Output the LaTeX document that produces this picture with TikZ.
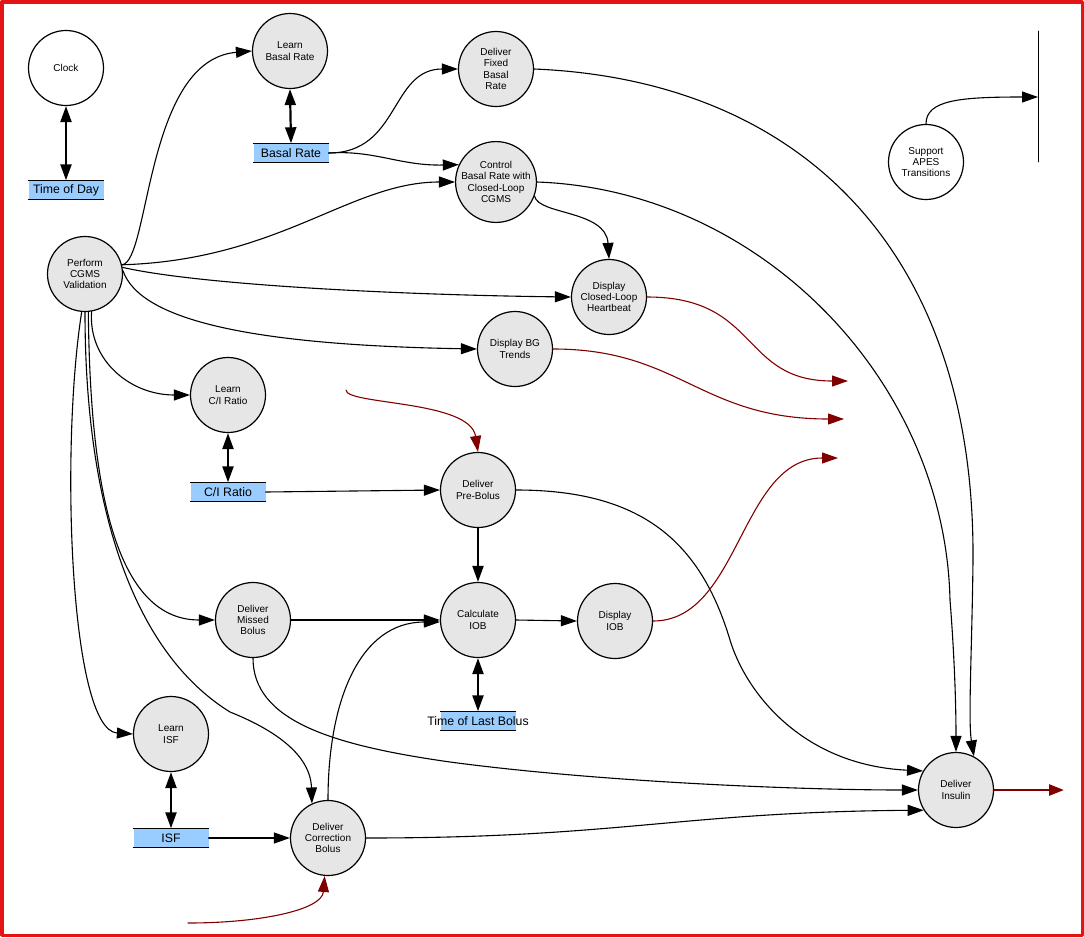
\documentclass[tikz,border=0pt]{standalone}
\usepackage{fontspec}
\setmainfont{Liberation Sans}
\usetikzlibrary{arrows.meta}
\definecolor{procgray}{HTML}{E6E6E6}
\definecolor{storeblue}{HTML}{99CCFF}
\definecolor{flowred}{HTML}{800000}
\definecolor{framered}{HTML}{E51414}
\begin{document}
\begin{tikzpicture}[line cap=round,line join=round,x=1pt,y=-1pt,
	>={Triangle[length=16pt,width=11pt]},
	proc/.style={circle,draw,line width=1.2pt,fill=procgray,minimum size=75pt,inner sep=0pt,align=center,font=\fontsize{10}{11.3}\selectfont},
	term/.style={proc,fill=white},
	store/.style={fill=storeblue,minimum width=75pt,minimum height=19pt,inner sep=0pt,font=\fontsize{12.3}{14}\selectfont},
	flow/.style={->,line width=1.1pt},
	dflow/.style={<->,line width=2.2pt,>={Triangle[length=16pt,width=11pt]}},
	cflow/.style={->,line width=1.1pt,color=flowred}]
			\useasboundingbox (0,0) rectangle (1084,937);
			\draw [framered,line width=3.5pt] (1.75,1.75) rectangle (1082.25,935.25);
			% processes and stores
			\node[term] (clock) at (66,68) {Clock};
			\node[store] (tod) at (66,190) {Time of Day};
			\node[proc] (learnbasal) at (290,51) {Learn\\Basal Rate};
			\node[store] (basalrate) at (291,153) {Basal Rate};
			\node[proc] (fixed) at (496,69) {Deliver\\Fixed\\Basal\\Rate};
			\node[proc] (control) at (496,182) {Control\\Basal Rate with\\Closed-Loop\\CGMS};
			\node[proc] (perform) at (85,274) {Perform\\CGMS\\Validation};
			\node[term] (apes) at (926,162) {Support\\APES\\Transitions};
			\node[proc] (heartbeat) at (609,297) {Display\\Closed-Loop\\Heartbeat};
			\node[proc] (bgtrends) at (515,349) {Display BG\\Trends};
			\node[proc] (learnci) at (228,395) {Learn\\C/I Ratio};
			\node[store] (ciratio) at (228,492) {C/I Ratio};
			\node[proc] (prebolus) at (478,490) {Deliver\\Pre-Bolus};
			\node[proc] (calciob) at (478,620) {Calculate\\IOB};
			\node[proc] (missed) at (253,620) {Deliver\\Missed\\Bolus};
			\node[proc] (displayiob) at (615,621) {Display\\IOB};
			\node[store] (lastbolus) at (478,721) {};
			\node[font=\fontsize{12.3}{14}\selectfont] (lastbolustext) at (lastbolus) {Time of Last Bolus};
			\node[proc] (learnisf) at (171,734) {Learn\\ISF};
			\node[store] (isf) at (171,838) {ISF};
			\node[proc] (correction) at (328,838) {Deliver\\Correction\\Bolus};
			\node[proc] (insulin) at (956,790) {Deliver\\Insulin};
			\foreach \s in {tod,basalrate,ciratio,lastbolus,isf}
				\draw [line width=1.2pt] (\s.north west) -- (\s.north east) [line width=0.8pt] (\s.south west) -- (\s.south east);
			% free ends
			\coordinate (bartop) at (1038,31);
			\coordinate (barbot) at (1038,162);
			\coordinate (barin) at (1038,97);
			\coordinate (hbout) at (848,381);
			\coordinate (bgout) at (844,419);
			\coordinate (iobout) at (838,458);
			\coordinate (prein) at (346,390);
			\coordinate (corrin) at (188,923);
			\coordinate (insout) at (1064,790);
			% data store links
			\draw [dflow] (clock.south) -- (tod.north);
			\draw [dflow] (learnbasal.south) -- (basalrate.north);
			\draw [dflow] (learnci.south) -- (ciratio.north);
			\draw [dflow] (calciob.south) -- (lastbolus.north);
			\draw [dflow] (learnisf.south) -- (isf.north);
			% flows out of validation
			\draw [flow] (perform.14) .. controls (150,262) and (145,60) .. (learnbasal.west);
			\draw [flow] (perform.14) .. controls (280,260) and (350,182) .. (control.west);
			\draw [flow] (perform.10) .. controls (200,285) and (400,295) .. (heartbeat.west);
			\draw [flow] (perform.5) .. controls (140,320) and (250,345) .. (bgtrends.west);
			\draw [flow] (perform.-80) .. controls (88,360) and (130,395) .. (learnci.west);
			\draw [flow] (perform.-85) .. controls (90,470) and (110,620) .. (missed.west);
			\draw [flow] (perform.-90) .. controls (85,500) and (130,650) .. (230,712) .. controls (300,740) and (311,770) .. (correction.115);
			\draw [flow] (perform.-95) .. controls (60,450) and (70,730) .. (learnisf.west);
			% basal rate
			\draw [flow] (basalrate.east) .. controls (400,153) and (390,69) .. (fixed.west);
			\draw [flow] (basalrate.east) .. controls (375,150) and (400,166) .. (control.155);
			\draw [flow] (control.-20) .. controls (538,215) and (606,210) .. (heartbeat.north);
			% bolus
			\draw [flow] (ciratio.east) -- (prebolus.west);
			\draw [flow,line width=2pt] (prebolus.south) -- (calciob.north);
			\draw [flow] (missed.east) -- (calciob.west);
			\draw [flow] (calciob.east) -- (displayiob.west);
			\draw [flow] (isf.east) -- (correction.west);
			\draw [flow] (correction.north) .. controls (328,700) and (360,622) .. (calciob.183);
			% into delivery
			\draw [flow] (fixed.east) .. controls (800,80) and (975,250) .. (973,560) .. controls (972,650) and (968,720) .. (insulin.62);
			\draw [flow] (control.east) .. controls (760,190) and (945,380) .. (950,600) .. controls (954,650) and (956,700) .. (insulin.north);
			\draw [flow] (prebolus.east) .. controls (640,490) and (700,540) .. (730,640) .. controls (745,690) and (800,765) .. (insulin.150);
			\draw [flow] (missed.south) .. controls (253,720) and (330,745) .. (450,762) .. controls (600,782) and (800,790) .. (insulin.west);
			\draw [flow] (correction.east) .. controls (620,838) and (680,812) .. (insulin.212);
			\draw [flow] (apes.north) .. controls (926,100) and (960,97) .. (barin);
			\draw [line width=0.8pt] (bartop) -- (barbot);
			% control flows
			\draw [cflow] (heartbeat.east) .. controls (760,297) and (740,381) .. (hbout);
			\draw [cflow] (bgtrends.east) .. controls (680,349) and (700,419) .. (bgout);
			\draw [cflow] (displayiob.east) .. controls (740,621) and (740,458) .. (iobout);
			\draw [cflow] (prein) .. controls (346,405) and (470,400) .. (prebolus.north);
			\draw [cflow] (corrin) .. controls (260,923) and (322,910) .. (correction.-95);
			\draw [cflow,line width=2.6pt,>={Triangle[length=15pt,width=11pt]}] (insulin.east) -- (insout);
\end{tikzpicture}
\end{document}
